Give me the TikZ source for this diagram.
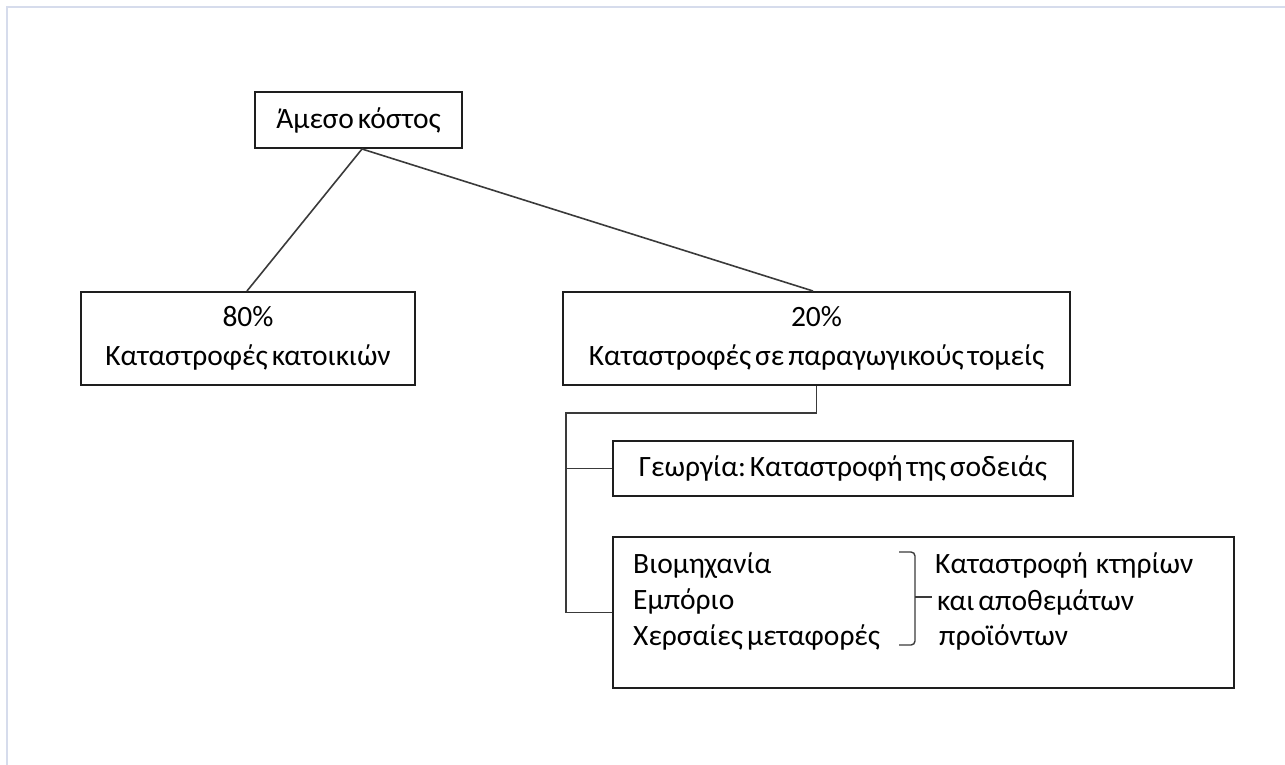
\documentclass[tikz,border=0pt]{standalone}
\usepackage{fontspec}
\setmainfont{Carlito}[WordSpace=0.6]
\frenchspacing
\usetikzlibrary{calc}

\definecolor{frameblue}{HTML}{D6DCEC}
\definecolor{boxline}{HTML}{1E1E1E}
\definecolor{linkline}{HTML}{3A3A3A}

\tikzset{
  box/.style={draw=boxline, line width=2pt, rectangle, inner sep=0pt,
              align=center, font=\fontsize{29.5}{39}\selectfont},
  link/.style={draw=linkline, line width=1.6pt},
  label/.style={inner sep=0pt, anchor=base west, font=\fontsize{29.5}{34}\selectfont},
}

\begin{document}
\begin{tikzpicture}[x=1pt, y=-1pt]
  \useasboundingbox (0,0) rectangle (1285,765);
  % page frame
  \draw[frameblue, line width=2pt] (6.5,765) -- (6.5,7.5) -- (1285,7.5);

  % boxes
  \node[box, minimum width=207pt, minimum height=56pt] (top) at (358.5,120) {Άμεσο κόστος};
  \node[box, minimum width=334pt, minimum height=93pt] (homes) at (248,338.5)
       {80\%\\Καταστροφές κατοικιών};
  \node[box, minimum width=507pt, minimum height=93pt] (sectors) at (816.5,338.5)
       {20\%\\Καταστροφές σε παραγωγικούς τομείς};
  \node[box, minimum width=460pt, minimum height=55pt] (farm) at (843,468.5)
       {Γεωργία: Καταστροφή της σοδειάς};
  \node[box, minimum width=621pt, minimum height=151pt] (industry) at (923.5,612.5) {};

  % contents of the lower box
  \node[label] (ind1) at (633,573) {Βιομηχανία};
  \node[label] (ind2) at (633,609) {Εμπόριο};
  \node[label] (ind3) at (633,645) {Χερσαίες μεταφορές};
  \node[label] (res1) at (935,573) {Καταστροφή\ \ κτηρίων};
  \node[label] (res2) at (937,610) {και αποθεμάτων};
  \node[label] (res3) at (939,645) {προϊόντων};

  % bracket joining the three sectors
  \coordinate (brtop) at (899,552);
  \coordinate (brbot) at (899,645);
  \coordinate (brmid) at (915,597);
  \draw[link, line width=1.4pt, rounded corners=4pt]
       (brtop) -- ++(16,0) -- ++(0,93) -- (brbot);
  \draw[link, line width=1.4pt] (brmid) -- ++(17,0);

  % connectors
  \draw[link] ([xshift=3.5pt]top.south) -- ([xshift=-1pt]homes.north);
  \draw[link] ([xshift=3.5pt]top.south) -- ([xshift=-3.5pt]sectors.north);
  \coordinate (trunk) at (566,413);
  \draw[link] (sectors.south) |- (trunk) -- (trunk |- industry.west) -- (industry.west);
  \draw[link] (trunk |- farm.west) -- (farm.west);
\end{tikzpicture}
\end{document}
